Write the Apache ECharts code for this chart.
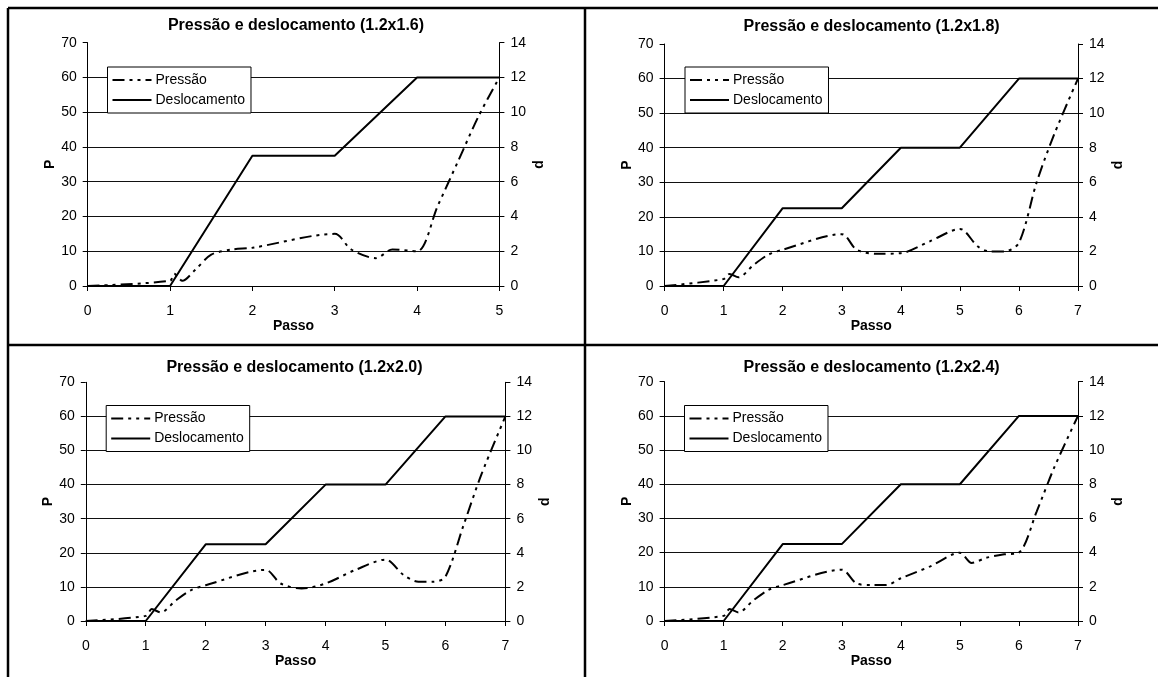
<!DOCTYPE html>
<html>
<head>
<meta charset="utf-8">
<script src="https://cdn.jsdelivr.net/npm/echarts@6/dist/echarts.min.js"></script>
<style>
html,body{margin:0;padding:0;background:#fff;}
#c{width:1158px;height:677px;}
</style>
</head>
<body>
<div id="c"></div>
<script>
// ---- data ----
const titles = ['Pressão e deslocamento (1.2x1.6)','Pressão e deslocamento (1.2x1.8)','Pressão e deslocamento (1.2x2.0)','Pressão e deslocamento (1.2x2.4)'];
const xMax = [5, 7, 7, 7];
const pTicks = [0,10,20,30,40,50,60,70];
const dTicks = [0,2,4,6,8,10,12,14];

const passoP1 = [0, 1, 1.05, 1.15, 1.3, 1.5, 1.75, 2, 3, 3.2, 3.5, 3.7, 4, 4.25, 4.5, 4.75, 5];
const pressao1 = [0, 1.5, 3.5, 1.5, 4.5, 9, 10.5, 11, 15, 10.5, 8, 10.5, 10, 23, 36, 49, 60];
const passoD1 = [0, 1, 2, 3, 4, 5];
const desloc1 = [0, 0, 7.5, 7.5, 12, 12];

const passoP2 = [0, 1, 1.1, 1.25, 1.5, 1.75, 2, 3, 3.25, 3.6, 4, 4.5, 5, 5.3, 5.5, 5.75, 6, 6.3, 6.6, 7];
const pressao2 = [0, 2, 3.5, 2.5, 6, 9, 10.5, 15, 10.5, 9.3, 9.5, 13, 16.5, 11.5, 10, 10, 12.5, 30, 44, 60];
const passoD2 = [0, 1, 2, 3, 4, 5, 6, 7];
const desloc2 = [0, 0, 4.5, 4.5, 8, 8, 12, 12];

const passoP3 = [0, 1, 1.1, 1.25, 1.5, 1.75, 2, 3, 3.25, 3.6, 4, 4.5, 5, 5.3, 5.55, 5.8, 6, 6.3, 6.6, 7];
const pressao3 = [0, 1.5, 3.5, 2.5, 6, 9, 10.5, 15, 11, 9.5, 11, 15, 18, 13.5, 11.5, 11.5, 13, 28, 43, 60];
const passoD3 = [0, 1, 2, 3, 4, 5, 6, 7];
const desloc3 = [0, 0, 4.5, 4.5, 8, 8, 12, 12];

const passoP4 = [0, 1, 1.1, 1.25, 1.5, 1.75, 2, 3, 3.25, 3.5, 3.75, 4, 4.5, 5, 5.2, 5.45, 5.75, 6, 6.3, 6.6, 7];
const pressao4 = [0, 1.5, 3.5, 2.5, 6, 9, 10.5, 15, 11, 10.5, 10.5, 12.5, 16, 20, 17, 18.5, 19.5, 20, 32, 45, 60];
const passoD4 = [0, 1, 2, 3, 4, 5, 6, 7];
const desloc4 = [0, 0, 4.5, 4.5, 8, 8, 12, 12];

const seriesNames = ['Pressão', 'Deslocamento'];
const axisNames = {x: 'Passo', p: 'P', d: 'd'};

// ---- layout ----
const FONT = 'Liberation Sans, Arial, sans-serif';
const grids = [
  {left: 87.7, top: 42.7, width: 411.7, height: 243.3},
  {left: 664.6, top: 44, width: 413.4, height: 242},
  {left: 85.8, top: 382.3, width: 419.6, height: 238.7},
  {left: 664.6, top: 381.7, width: 413.4, height: 239.3}
];
const titlePos = [{x: 296, y: 18}, {x: 871.6, y: 19}, {x: 294.5, y: 360}, {x: 871.6, y: 360}];
const legendPos = [{x: 107.5, y: 67}, {x: 685, y: 67}, {x: 106.2, y: 405.5}, {x: 684.5, y: 405.5}];

const zip = (xs, ys) => xs.map((x, i) => [x, ys[i]]);
const pData = [zip(passoP1, pressao1), zip(passoP2, pressao2), zip(passoP3, pressao3), zip(passoP4, pressao4)];
const dData = [zip(passoD1, desloc1), zip(passoD2, desloc2), zip(passoD3, desloc3), zip(passoD4, desloc4)];

const black = '#000';
const tickLabel = {color: black, fontSize: 14, fontFamily: FONT};
const nameStyle = {color: black, fontSize: 14, fontWeight: 'bold', fontFamily: FONT};
const dashPattern = [12, 5, 3, 5, 3, 5];

const option = {
  animation: false,
  backgroundColor: '#fff',
  title: titles.map((t, i) => ({
    text: t, left: titlePos[i].x, top: titlePos[i].y, textAlign: 'center', padding: 0,
    textStyle: {color: black, fontSize: 16, fontWeight: 'bold', fontFamily: FONT}
  })),
  legend: legendPos.map((p, i) => ({
    data: seriesNames, orient: 'vertical', left: p.x, top: p.y,
    padding: [6, 6, 6, 4], itemGap: 6, itemWidth: 39, itemHeight: 14,
    backgroundColor: '#fff', borderColor: black, borderWidth: 1, borderRadius: 0,
    selectedMode: false,
    itemStyle: {color: 'rgba(0,0,0,0)', borderWidth: 0, opacity: 0},
    lineStyle: {color: black, width: 2},
    textStyle: {color: black, fontSize: 14, fontFamily: FONT, padding: [0, 0, 0, -1]}
  })),
  grid: grids.map(g => Object.assign({containLabel: false}, g)),
  xAxis: grids.map((g, i) => ({
    type: 'value', gridIndex: i, min: 0, max: xMax[i], interval: 1,
    name: axisNames.x, nameLocation: 'middle', nameGap: 31, nameTextStyle: nameStyle,
    axisLine: {show: true, onZero: false, lineStyle: {color: black, width: 1}},
    axisTick: {show: true, length: 5, lineStyle: {color: black}},
    axisLabel: Object.assign({margin: 18}, tickLabel),
    splitLine: {show: false}
  })),
  yAxis: [].concat(...grids.map((g, i) => [
    {
      type: 'value', gridIndex: i, min: pTicks[0], max: pTicks[pTicks.length - 1], interval: pTicks[1] - pTicks[0],
      position: 'left', name: axisNames.p, nameLocation: 'middle', nameGap: 30, nameTextStyle: nameStyle,
      axisLine: {show: true, lineStyle: {color: black, width: 1}},
      axisTick: {show: true, length: 5, lineStyle: {color: black}},
      axisLabel: Object.assign({margin: 11}, tickLabel),
      splitLine: {show: true, showMinLine: false, showMaxLine: false, lineStyle: {color: '#111', width: 1}}
    },
    {
      type: 'value', gridIndex: i, min: dTicks[0], max: dTicks[dTicks.length - 1], interval: dTicks[1] - dTicks[0],
      position: 'right', name: axisNames.d, nameLocation: 'middle', nameGap: 33, nameTextStyle: nameStyle,
      axisLine: {show: true, lineStyle: {color: black, width: 1}},
      axisTick: {show: true, length: 5, lineStyle: {color: black}},
      axisLabel: Object.assign({margin: 11}, tickLabel),
      splitLine: {show: false}
    }
  ])),
  series: [].concat(...grids.map((g, i) => [
    {
      name: seriesNames[0], type: 'line', xAxisIndex: i, yAxisIndex: 2 * i,
      data: pData[i], smooth: 0.3, symbol: 'none', z: 3,
      lineStyle: {color: black, width: 2, type: dashPattern},
      itemStyle: {color: black}
    },
    {
      name: seriesNames[1], type: 'line', xAxisIndex: i, yAxisIndex: 2 * i + 1,
      data: dData[i], smooth: false, symbol: 'none', z: 3,
      lineStyle: {color: black, width: 2, type: 'solid'},
      itemStyle: {color: black}
    }
  ])),
  graphic: [
    {type: 'line', shape: {x1: 8, y1: 8, x2: 1158, y2: 8}, style: {stroke: black, lineWidth: 2.5}, silent: true},
    {type: 'line', shape: {x1: 8, y1: 8, x2: 8, y2: 677}, style: {stroke: black, lineWidth: 2.5}, silent: true},
    {type: 'line', shape: {x1: 585, y1: 8, x2: 585, y2: 677}, style: {stroke: black, lineWidth: 2.5}, silent: true},
    {type: 'line', shape: {x1: 8, y1: 345, x2: 1158, y2: 345}, style: {stroke: black, lineWidth: 2.5}, silent: true}
  ]
};

const chart = echarts.init(document.getElementById('c'), null, {renderer: 'canvas'});
chart.setOption(option);
</script>
</body>
</html>
